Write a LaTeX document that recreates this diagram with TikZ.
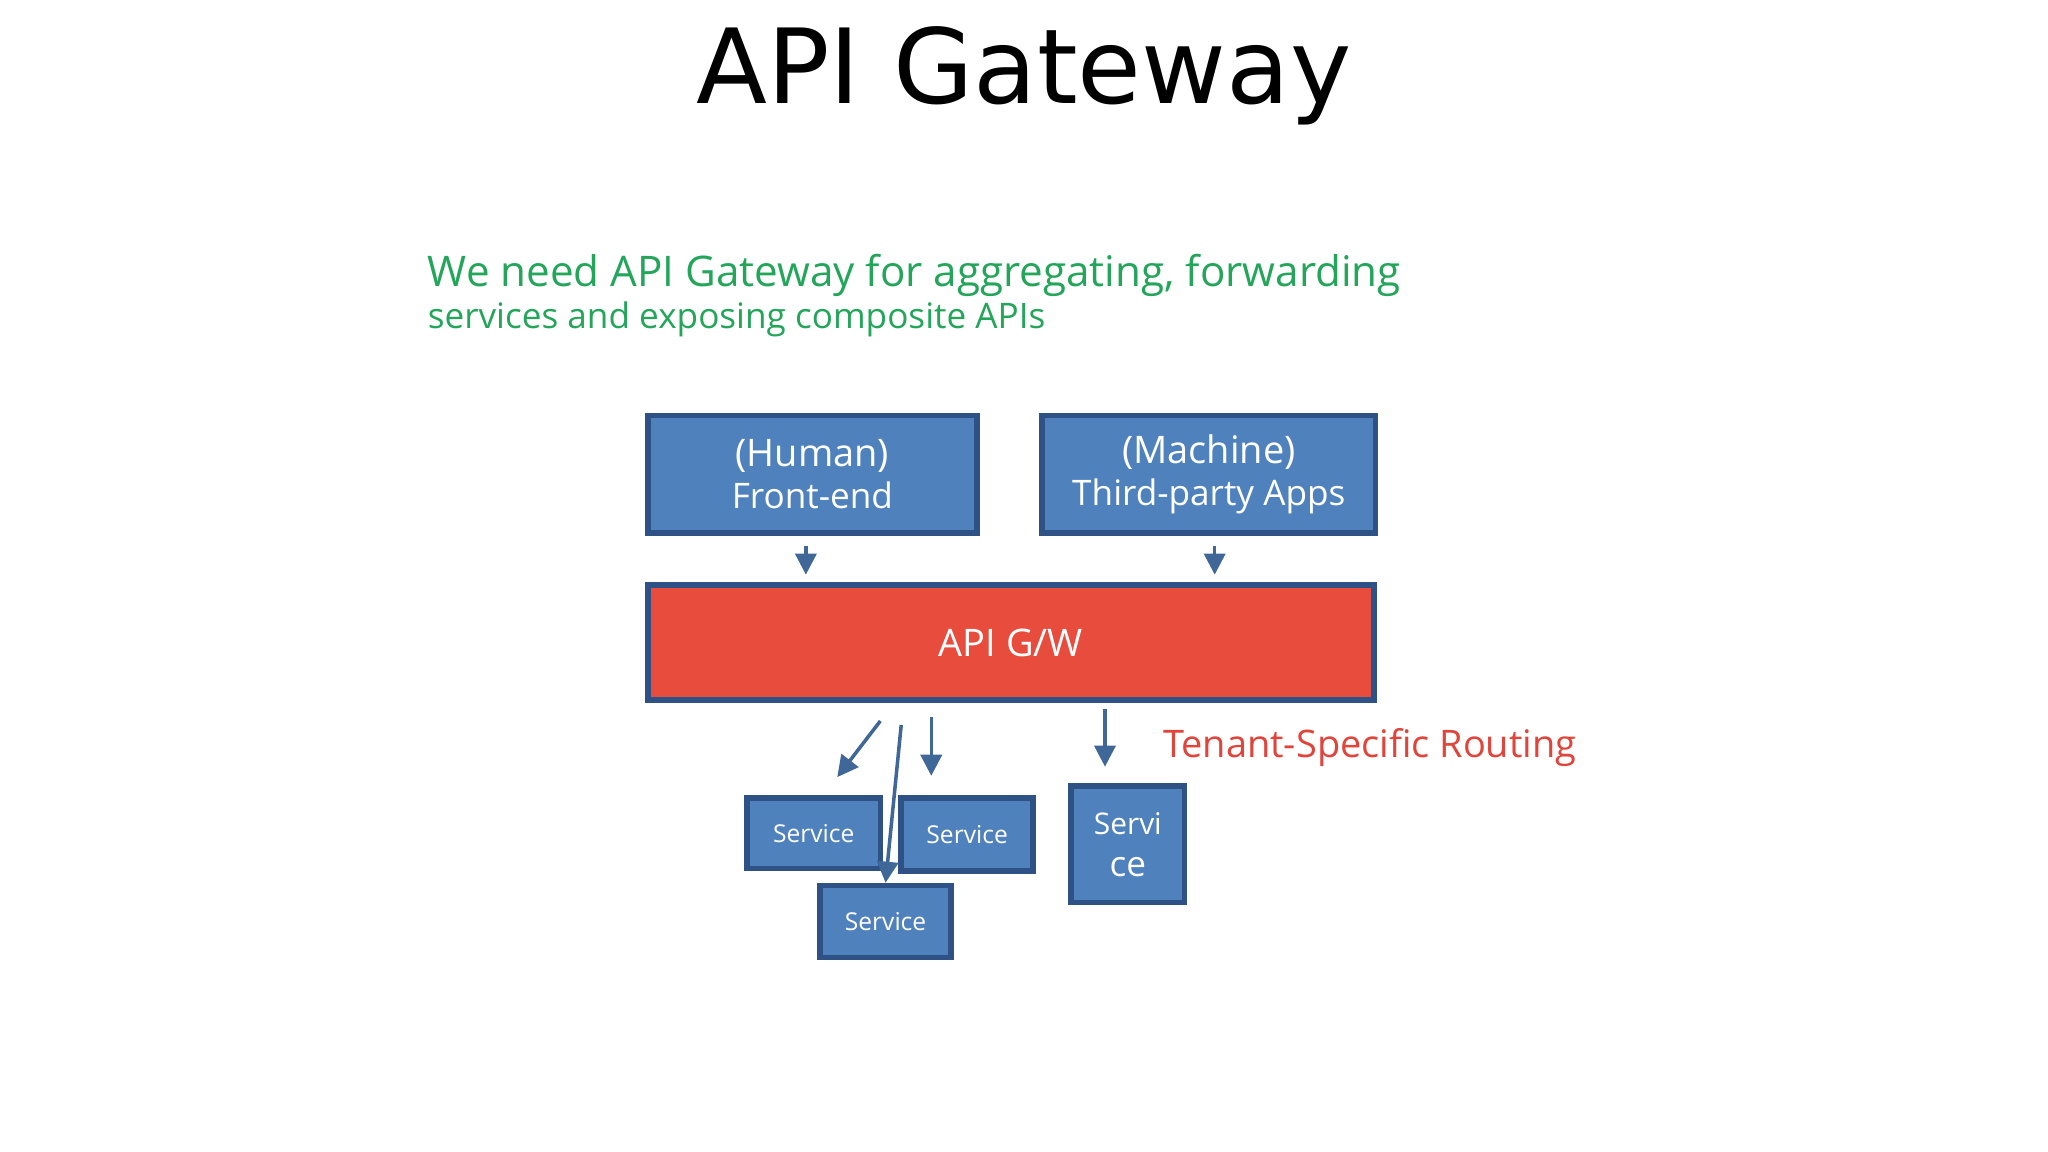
\documentclass[tikz,border=0pt]{standalone}
\usepackage{fontspec}
\setmainfont{Open Sans}
\newfontfamily\titlefont{DejaVu Sans}
\usetikzlibrary{arrows.meta}
\definecolor{boxblue}{HTML}{4F81BD}
\definecolor{boxedge}{HTML}{2F5286}
\definecolor{gwred}{HTML}{E84C3D}
\definecolor{txtgreen}{HTML}{23A55A}
\definecolor{txtred}{HTML}{E0443A}
\begin{document}
\begin{tikzpicture}[x=0.013061cm,y=-0.013061cm,
  box/.style={draw=boxedge,line width=1.6pt,fill=boxblue,text=white,align=center,inner sep=0pt},
  sz/.style 2 args={minimum width={#1*0.013061cm},minimum height={#2*0.013061cm}},
  arr/.style={draw=boxblue!80!black,line width=1pt,-{Triangle[length=6pt,width=6pt]}}]
\useasboundingbox (0,0) rectangle (1568,882);
\node (title) at (784,58) {\titlefont\fontsize{29.5}{34}\selectfont API Gateway};
\node[anchor=north west,text=txtgreen,align=left,inner sep=0pt] (sub) at (327,194)
  {\fontsize{12}{13.8}\selectfont We need API Gateway for aggregating, forwarding\\ services and exposing composite APIs};
\node[box,sz={252}{90}] (human) at (622,363) {\fontsize{10.8}{12.2}\selectfont (Human)\\Front-end};
\node[box,sz={255}{90}] (machine) at (925.5,363) {\fontsize{10.8}{12.2}\selectfont (Machine)\\Third-party Apps};
\node[box,fill=gwred,sz={556}{88}] (gw) at (774,492) {\fontsize{10.8}{12}\selectfont API G/W};
\node[box,sz={102}{54}] (s1) at (623,638) {\fontsize{7}{8}\selectfont Service};
\node[box,sz={101}{56}] (s2) at (740.5,639) {\fontsize{7}{8}\selectfont Service};
\node[box,sz={100}{55}] (s3) at (678,705.5) {\fontsize{7}{8}\selectfont Service};
\node[box,sz={87}{89}] (s4) at (863.5,646.5) {\fontsize{8.5}{10.5}\selectfont Servi\\ce};
\node[anchor=west,text=txtred,inner sep=0pt] (tsr) at (890,572) {\fontsize{10.8}{13}\selectfont Tenant-Specific Routing};
\coordinate (h1) at (617,418); \coordinate (h2) at (617,440);
\coordinate (m1) at (930,418); \coordinate (m2) at (930,440);
\draw[arr] (h1) -- (h2);
\draw[arr] (m1) -- (m2);
\coordinate (a1) at (674,552); \coordinate (a2) at (641,595);
\coordinate (b1) at (690,555);
\coordinate (c1) at (713,549); \coordinate (c2) at (713,594);
\coordinate (d1) at (846,543); \coordinate (d2) at (846,587);
\draw[arr] (a1) -- (a2);
\draw[arr] (b1) -- (s3.north);
\draw[arr] (c1) -- (c2);
\draw[arr] (d1) -- (d2);
\end{tikzpicture}
\end{document}
